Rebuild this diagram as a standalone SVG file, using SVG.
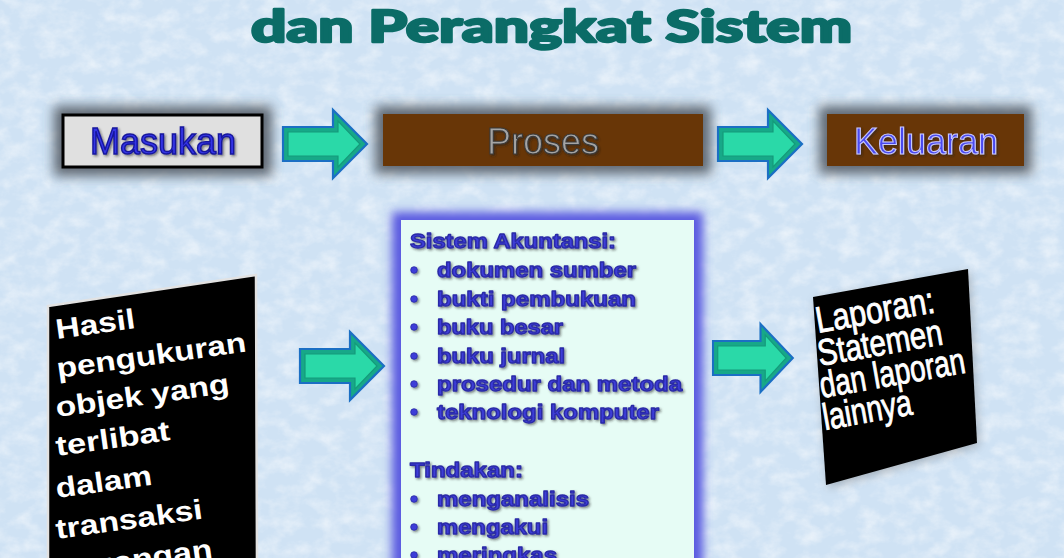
<svg xmlns="http://www.w3.org/2000/svg" width="1064" height="558" viewBox="0 0 1064 558">
  <defs>
    <filter id="tex" x="0" y="0" width="100%" height="100%">
      <feTurbulence type="fractalNoise" baseFrequency="0.05 0.07" numOctaves="4" seed="7"/>
      <feColorMatrix type="matrix" values="0 0 0 0 1  0 0 0 0 1  0 0 0 0 1  0 0 0 1.4 -0.55"/>
    </filter>
    <filter id="blur6" x="-20%" y="-40%" width="140%" height="180%">
      <feGaussianBlur stdDeviation="6"/>
    </filter>
    <filter id="glow" x="-10%" y="-10%" width="120%" height="120%">
      <feGaussianBlur stdDeviation="5"/>
    </filter>
    <filter id="tshadow" x="-10%" y="-20%" width="120%" height="150%">
      <feDropShadow dx="1.5" dy="1.5" stdDeviation="1" flood-color="#222" flood-opacity="0.55"/>
    </filter>
    <path id="arrowOuter" d="M0,-17 H50 V-34 L84,0 L50,34 V17 H0 Z"/>
    <path id="arrowInner" d="M5,-12 H55 V-23 L77,0 L55,23 V12 H5 Z"/>
  </defs>
  <style>
    .title { font-family: "Lato", "Liberation Sans", sans-serif; font-weight: 900; font-size: 44px; fill: #0b6c67; stroke: #0b6c67; stroke-width: 2.4; stroke-linejoin: round; }
    .big { font-family: "Liberation Sans", Arial, sans-serif; font-size: 36px; text-anchor: middle; }
    .blue { fill: #3434e6; stroke: #15159c; stroke-width: 1.4; }
    .lblue { fill: #4a4af0; stroke: #c8c8ff; stroke-width: 1.1; }
    .gray { fill: #a4a4a4; stroke: #3a3a3a; stroke-width: 1.1; }
    .list { font-family: "Liberation Sans", Arial, sans-serif; font-weight: bold; font-size: 21px; fill: #3d3dd8; stroke: #2a2aa6; stroke-width: 1.3; stroke-linejoin: round; }
    .wtxt { font-family: "Liberation Sans", Arial, sans-serif; font-weight: bold; font-size: 28px; fill: #ffffff; }
    .ntxt { font-family: "Liberation Sans", Arial, sans-serif; font-size: 37px; fill: #ffffff; stroke: #ffffff; stroke-width: 0.9; }
    .arrow-o { fill: #17a888; stroke: #1b6fc4; stroke-width: 2.2; stroke-linejoin: miter; }
    .arrow-i { fill: #2ad9a8; stroke: #159a7a; stroke-width: 1.2; }
    .shadow { fill: #4b535c; opacity: 0.85; }
    .bullet { fill: #3d3dd8; stroke: #2a2aa6; stroke-width: 0.8; }
  </style>

  <!-- background -->
  <rect x="0" y="0" width="1064" height="558" fill="#cfe2f4"/>
  <rect x="0" y="0" width="1064" height="558" filter="url(#tex)" opacity="0.7"/>

  <!-- title -->
  <g id="title">
    <text class="title" x="251" y="42" textLength="601" lengthAdjust="spacingAndGlyphs">dan Perangkat Sistem</text>
  </g>

  <!-- top row nodes -->
  <g id="node-masukan">
    <rect class="shadow" x="54" y="106" width="218" height="70" filter="url(#blur6)"/>
    <rect x="63" y="115" width="199" height="52" fill="#e0e0e0" stroke="#000" stroke-width="3"/>
    <text class="big blue" x="163" y="154" filter="url(#tshadow)">Masukan</text>
  </g>
  <g id="node-proses">
    <rect class="shadow" x="375" y="106" width="336" height="68" filter="url(#blur6)"/>
    <rect x="383" y="114" width="320" height="52" fill="#683607"/>
    <text class="big gray" x="543" y="154" filter="url(#tshadow)">Proses</text>
  </g>
  <g id="node-keluaran">
    <rect class="shadow" x="819" y="106" width="213" height="68" filter="url(#blur6)"/>
    <rect x="827" y="114" width="197" height="52" fill="#683607"/>
    <text class="big lblue" x="926" y="154" filter="url(#tshadow)">Keluaran</text>
  </g>

  <!-- left detail: input -->
  <g id="node-input-detail">
    <polygon points="48,306 256,275 257,570 48,570" fill="#000" stroke="#e2e2e2" stroke-width="2.5"/>
    <text class="wtxt" x="57" y="339" transform="rotate(-8 57 339)" textLength="80" lengthAdjust="spacingAndGlyphs">Hasil</text>
    <text class="wtxt" x="58" y="378" transform="rotate(-8 58 378)" textLength="191" lengthAdjust="spacingAndGlyphs">pengukuran</text>
    <text class="wtxt" x="57" y="417" transform="rotate(-8 57 417)" textLength="175" lengthAdjust="spacingAndGlyphs">objek yang</text>
    <text class="wtxt" x="57" y="456" transform="rotate(-8 57 456)" textLength="115" lengthAdjust="spacingAndGlyphs">terlibat</text>
    <text class="wtxt" x="57" y="498" transform="rotate(-8 57 498)" textLength="97" lengthAdjust="spacingAndGlyphs">dalam</text>
    <text class="wtxt" x="57" y="539" transform="rotate(-8 57 539)" textLength="148" lengthAdjust="spacingAndGlyphs">transaksi</text>
    <text class="wtxt" x="57" y="580" transform="rotate(-8 57 580)" textLength="158" lengthAdjust="spacingAndGlyphs">keuangan</text>
  </g>

  <!-- middle detail: process -->
  <g id="node-process-detail">
    <rect x="392" y="212" width="311" height="360" fill="#5a5ae0" filter="url(#glow)"/>
    <rect x="401" y="220" width="293" height="350" fill="#e6fcf5"/>
    <g filter="url(#tshadow)">
      <text class="list" x="410" y="248" textLength="206" lengthAdjust="spacingAndGlyphs">Sistem Akuntansi:</text>
      <circle class="bullet" cx="414" cy="270" r="3.3"/>
      <text class="list" x="437" y="277" textLength="199" lengthAdjust="spacingAndGlyphs">dokumen sumber</text>
      <circle class="bullet" cx="414" cy="299" r="3.3"/>
      <text class="list" x="437" y="306" textLength="199" lengthAdjust="spacingAndGlyphs">bukti pembukuan</text>
      <circle class="bullet" cx="414" cy="327" r="3.3"/>
      <text class="list" x="437" y="334" textLength="126" lengthAdjust="spacingAndGlyphs">buku besar</text>
      <circle class="bullet" cx="414" cy="356" r="3.3"/>
      <text class="list" x="437" y="363" textLength="128" lengthAdjust="spacingAndGlyphs">buku jurnal</text>
      <circle class="bullet" cx="414" cy="384" r="3.3"/>
      <text class="list" x="437" y="391" textLength="245" lengthAdjust="spacingAndGlyphs">prosedur dan metoda</text>
      <circle class="bullet" cx="414" cy="412" r="3.3"/>
      <text class="list" x="437" y="419" textLength="222" lengthAdjust="spacingAndGlyphs">teknologi komputer</text>
      <text class="list" x="410" y="477" textLength="113" lengthAdjust="spacingAndGlyphs">Tindakan:</text>
      <circle class="bullet" cx="414" cy="499" r="3.3"/>
      <text class="list" x="437" y="506" textLength="152" lengthAdjust="spacingAndGlyphs">menganalisis</text>
      <circle class="bullet" cx="414" cy="527" r="3.3"/>
      <text class="list" x="437" y="534" textLength="111" lengthAdjust="spacingAndGlyphs">mengakui</text>
      <circle class="bullet" cx="414" cy="555" r="3.3"/>
      <text class="list" x="437" y="562" textLength="120" lengthAdjust="spacingAndGlyphs">meringkas</text>
    </g>
  </g>

  <!-- right detail: output -->
  <g id="node-output-detail">
    <polygon points="815,300 970,272 979,446 828,488" fill="#555" opacity="0.35" filter="url(#glow)"/>
    <polygon points="813,297 968,269 977,443 826,485" fill="#000"/>
    <text class="ntxt" x="818" y="333" transform="rotate(-10 818 333)" textLength="120" lengthAdjust="spacingAndGlyphs">Laporan:</text>
    <text class="ntxt" x="820" y="366" transform="rotate(-10 820 366)" textLength="126" lengthAdjust="spacingAndGlyphs">Statemen</text>
    <text class="ntxt" x="822" y="398" transform="rotate(-10 822 398)" textLength="147" lengthAdjust="spacingAndGlyphs">dan laporan</text>
    <text class="ntxt" x="825" y="430" transform="rotate(-10 825 430)" textLength="90" lengthAdjust="spacingAndGlyphs">lainnya</text>
  </g>

  <!-- connectors -->
  <g id="connectors">
    <g transform="translate(283,144)">
      <use href="#arrowOuter" class="arrow-o"/>
      <use href="#arrowInner" class="arrow-i"/>
    </g>
    <g transform="translate(718,144)">
      <use href="#arrowOuter" class="arrow-o"/>
      <use href="#arrowInner" class="arrow-i"/>
    </g>
    <g transform="translate(300,366)">
      <use href="#arrowOuter" class="arrow-o"/>
      <use href="#arrowInner" class="arrow-i"/>
    </g>
    <g transform="translate(713,358) scale(0.95 1)">
      <use href="#arrowOuter" class="arrow-o"/>
      <use href="#arrowInner" class="arrow-i"/>
    </g>
  </g>
</svg>
